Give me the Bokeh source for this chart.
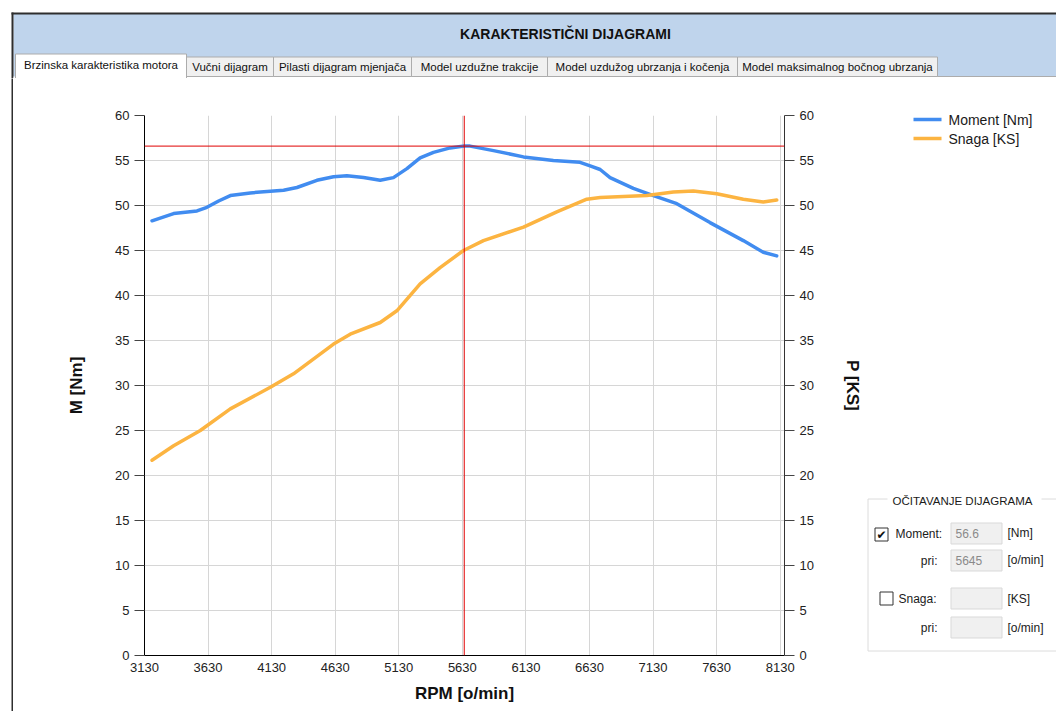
from bokeh.plotting import figure
from bokeh.layouts import row, column
from bokeh.models import Range1d, LinearAxis, FixedTicker, Span
from bokeh.core.properties import value
from bokeh.embed import file_html
from bokeh.resources import INLINE

# ---------------- data ----------------
rpm_moment = [3189, 3359, 3543, 3621, 3713, 3805, 3962, 4224, 4329, 4486, 4617, 4722,
              4853, 4984, 5088, 5194, 5298, 5403, 5534, 5645, 5691, 5875, 6111,
              6346, 6556, 6635, 6714, 6792, 6975, 7133, 7317, 7578, 7840, 7997, 8103]
moment = [48.3, 49.1, 49.4, 49.8, 50.5, 51.1, 51.4, 51.7, 52.0, 52.8, 53.2, 53.3,
          53.1, 52.8, 53.1, 54.1, 55.3, 55.9, 56.4, 56.6, 56.6, 56.1, 55.4,
          55.0, 54.8, 54.4, 54.0, 53.1, 51.9, 51.1, 50.2, 48.1, 46.1, 44.8, 44.4]

rpm_snaga = [3189, 3359, 3569, 3805, 4120, 4302, 4617, 4748, 4984, 5115, 5298,
             5455, 5639, 5796, 6111, 6373, 6609, 6714, 7081, 7290, 7447, 7631,
             7840, 7997, 8103]
snaga = [21.7, 23.3, 25.0, 27.4, 29.8, 31.3, 34.6, 35.7, 37.0, 38.3, 41.3,
         43.1, 45.0, 46.1, 47.6, 49.3, 50.7, 50.9, 51.1, 51.5, 51.6, 51.3,
         50.7, 50.4, 50.6]

x_ticks = [3130, 3630, 4130, 4630, 5130, 5630, 6130, 6630, 7130, 7630, 8130]
y_ticks = [0, 5, 10, 15, 20, 25, 30, 35, 40, 45, 50, 55, 60]

read_rpm = 5645
read_moment = 56.6

window_title = "KARAKTERISTIČNI DIJAGRAMI"
tab_names = ["Brzinska karakteristika motora", "Vučni dijagram",
             "Pilasti dijagram mjenjača", "Model uzdužne trakcije",
             "Model uzdužog ubrzanja i kočenja", "Model maksimalnog bočnog ubrzanja"]
series_names = ["Moment [Nm]", "Snaga [KS]"]

# ---------------- layout constants ----------------
W, H = 1056, 711
TOP_H = 78          # height of title bar / tab strip
STRIP_W = 13        # left window border strip
SIDE_X = 866        # start of right-hand side panel
FL, FR, FT, FB = 144, 784, 115, 655   # chart frame in page pixels
FONT = "Liberation Sans"
BLUE = "#418CF0"
ORANGE = "#FCB441"
BORDER = "#2e2e2e"


def deco_fig(x0, x1, y0, y1):
    f = figure(width=x1 - x0, height=y1 - y0, x_range=Range1d(x0, x1),
               y_range=Range1d(y1, y0), x_axis_type=None, y_axis_type=None,
               output_backend="svg", toolbar_location=None, min_border=0,
               frame_align=False)
    f.grid.visible = False
    f.outline_line_color = None
    f.background_fill_color = "white"
    f.border_fill_color = "white"
    return f


def box(f, x0, y0, x1, y1, fill=None, line=None, lw=1):
    f.quad(left=[x0], right=[x1], top=[y0], bottom=[y1],
           fill_color=fill if fill else "white", fill_alpha=1 if fill else 0,
           line_color=line if line else "white", line_alpha=1 if line else 0,
           line_width=lw)


def text(f, x, y, s, size=12, bold=False, color="#1a1a1a", align="left", font=FONT):
    f.text(x=[x], y=[y], text=[s], text_font=value(font),
           text_font_size=value(f"{size}px"),
           text_font_style="bold" if bold else "normal",
           text_color=color, text_align=align, text_baseline="middle")


# ---------------- top: title bar and tabs ----------------
top = deco_fig(0, W, 0, TOP_H)
box(top, 13, 13, W + 5, 77, fill="#BFD4EC")
box(top, 11, 12, W + 5, 14, fill=BORDER)
box(top, 11, 12, 13, TOP_H + 2, fill=BORDER)
text(top, 565, 33, window_title, size=14, bold=True, color="#111111", align="center")

tab_edges = [15, 186, 273, 411, 547, 737, 937]
box(top, 13, 76, W + 5, TOP_H + 2, fill="white")
box(top, 186, 75.5, W + 5, 76.5, fill="#ACACAC")
for i in range(1, len(tab_names)):
    box(top, tab_edges[i], 56.5, tab_edges[i + 1], 76, fill="#F0F0F0", line="#ACACAC")
    text(top, (tab_edges[i] + tab_edges[i + 1]) / 2, 66.5, tab_names[i], size=11.5,
         align="center", color="#111111")
box(top, tab_edges[0], 53.5, tab_edges[1], TOP_H + 5, fill="white", line="#ACACAC")
text(top, (tab_edges[0] + tab_edges[1]) / 2, 64, tab_names[0], size=11.5,
     align="center", color="#111111")

# ---------------- left window border strip ----------------
strip = deco_fig(0, STRIP_W, TOP_H, H)
box(strip, 11, TOP_H - 2, 13, H + 2, fill=BORDER)

# ---------------- chart ----------------
p = figure(width=SIDE_X - STRIP_W, height=H - TOP_H,
           x_range=Range1d(3130, 8164), y_range=Range1d(0, 60),
           output_backend="svg", toolbar_location=None,
           min_border_left=FL - STRIP_W, min_border_right=SIDE_X - FR,
           min_border_top=FT - TOP_H, min_border_bottom=H - FB,
           frame_align=False,
           x_axis_label="RPM [o/min]", y_axis_label="M [Nm]")
p.extra_y_ranges = {"right": Range1d(0, 60)}
p.outline_line_color = None
p.background_fill_color = "white"
p.border_fill_color = "white"

p.xgrid.ticker = FixedTicker(ticks=x_ticks)
p.ygrid.ticker = FixedTicker(ticks=y_ticks)
for g in (p.xgrid, p.ygrid):
    g.grid_line_color = "#D6D6D6"
    g.grid_line_width = 1

xa = p.xaxis[0]
xa.ticker = FixedTicker(ticks=x_ticks)
xa.major_tick_out = 0
xa.major_tick_in = 0
xa.minor_tick_out = 0
xa.axis_line_color = "black"
xa.major_label_standoff = 7
xa.axis_label_standoff = 9

ya = p.yaxis[0]
ya.ticker = FixedTicker(ticks=y_ticks)
ya.major_tick_out = 10
ya.major_tick_in = 0
ya.minor_tick_out = 0
ya.axis_line_color = "black"
ya.major_tick_line_color = "#444444"
ya.major_label_standoff = 5
ya.axis_label_standoff = 26

ra = LinearAxis(y_range_name="right", axis_label="P [KS]",
                ticker=FixedTicker(ticks=y_ticks))
ra.major_tick_out = 10
ra.major_tick_in = 0
ra.minor_tick_out = 0
ra.axis_line_color = "#333333"
ra.major_tick_line_color = "#444444"
ra.major_label_standoff = 5
ra.axis_label_standoff = 26
p.add_layout(ra, "right")

for ax in (xa, ya, ra):
    ax.major_label_text_font = FONT
    ax.major_label_text_font_size = "13px"
    ax.major_label_text_color = "#222222"
    ax.axis_label_text_font = FONT
    ax.axis_label_text_font_size = "17px"
    ax.axis_label_text_font_style = "bold"
    ax.axis_label_text_color = "#111111"

p.line(rpm_moment, moment, line_color=BLUE, line_width=3.5, line_join="round",
       line_cap="round")
p.line(rpm_snaga, snaga, line_color=ORANGE, line_width=3.5, line_join="round",
       line_cap="round", y_range_name="right")

p.add_layout(Span(location=read_rpm, dimension="height", line_color="#E00000", line_width=1))
p.add_layout(Span(location=read_moment, dimension="width", line_color="#E00000", line_width=1))

# ---------------- right side panel: legend + read-out group ----------------
side = deco_fig(SIDE_X, W, TOP_H, H)
for color, name, yy in ((BLUE, series_names[0], 119), (ORANGE, series_names[1], 138)):
    side.segment(x0=[913], y0=[yy], x1=[941], y1=[yy], line_color=color, line_width=3.5)
    text(side, 948, yy, name, size=14, color="#1a1a1a")

box(side, 867.5, 498.5, W + 5, 650.5, line="#DCDCDC")
box(side, 887, 492, 1041, 505, fill="white")
text(side, 892, 500, "OČITAVANJE DIJAGRAMA", size=11.5, color="#1a1a1a")

box(side, 874.5, 527.5, 887.5, 540.5, fill="white", line="#333333")
text(side, 881, 534, "✔", size=12, align="center", color="#111111", font="DejaVu Sans")
text(side, 895, 533, "Moment:", size=12)
box(side, 950.5, 522.5, 1001.5, 543.5, fill="#F0F0F0", line="#D9D9D9")
text(side, 955, 532.5, f"{read_moment}", size=12, color="#8a8a8a")
text(side, 1007, 532.5, "[Nm]", size=12)
text(side, 937, 560, "pri:", size=12, align="right")
box(side, 950.5, 549.5, 1001.5, 570.5, fill="#F0F0F0", line="#D9D9D9")
text(side, 955, 559.5, f"{read_rpm}", size=12, color="#8a8a8a")
text(side, 1007, 559.5, "[o/min]", size=12)

box(side, 879.5, 591.5, 892.5, 604.5, fill="white", line="#333333")
text(side, 898, 598, "Snaga:", size=12)
box(side, 950.5, 587.5, 1001.5, 608.5, fill="#F0F0F0", line="#D9D9D9")
text(side, 1007, 598, "[KS]", size=12)
text(side, 937, 627, "pri:", size=12, align="right")
box(side, 950.5, 616.5, 1001.5, 637.5, fill="#F0F0F0", line="#D9D9D9")
text(side, 1007, 627, "[o/min]", size=12)

layout = column(top, row(strip, p, side, spacing=0), spacing=0)
open("out.html", "w").write(file_html(layout, INLINE))
